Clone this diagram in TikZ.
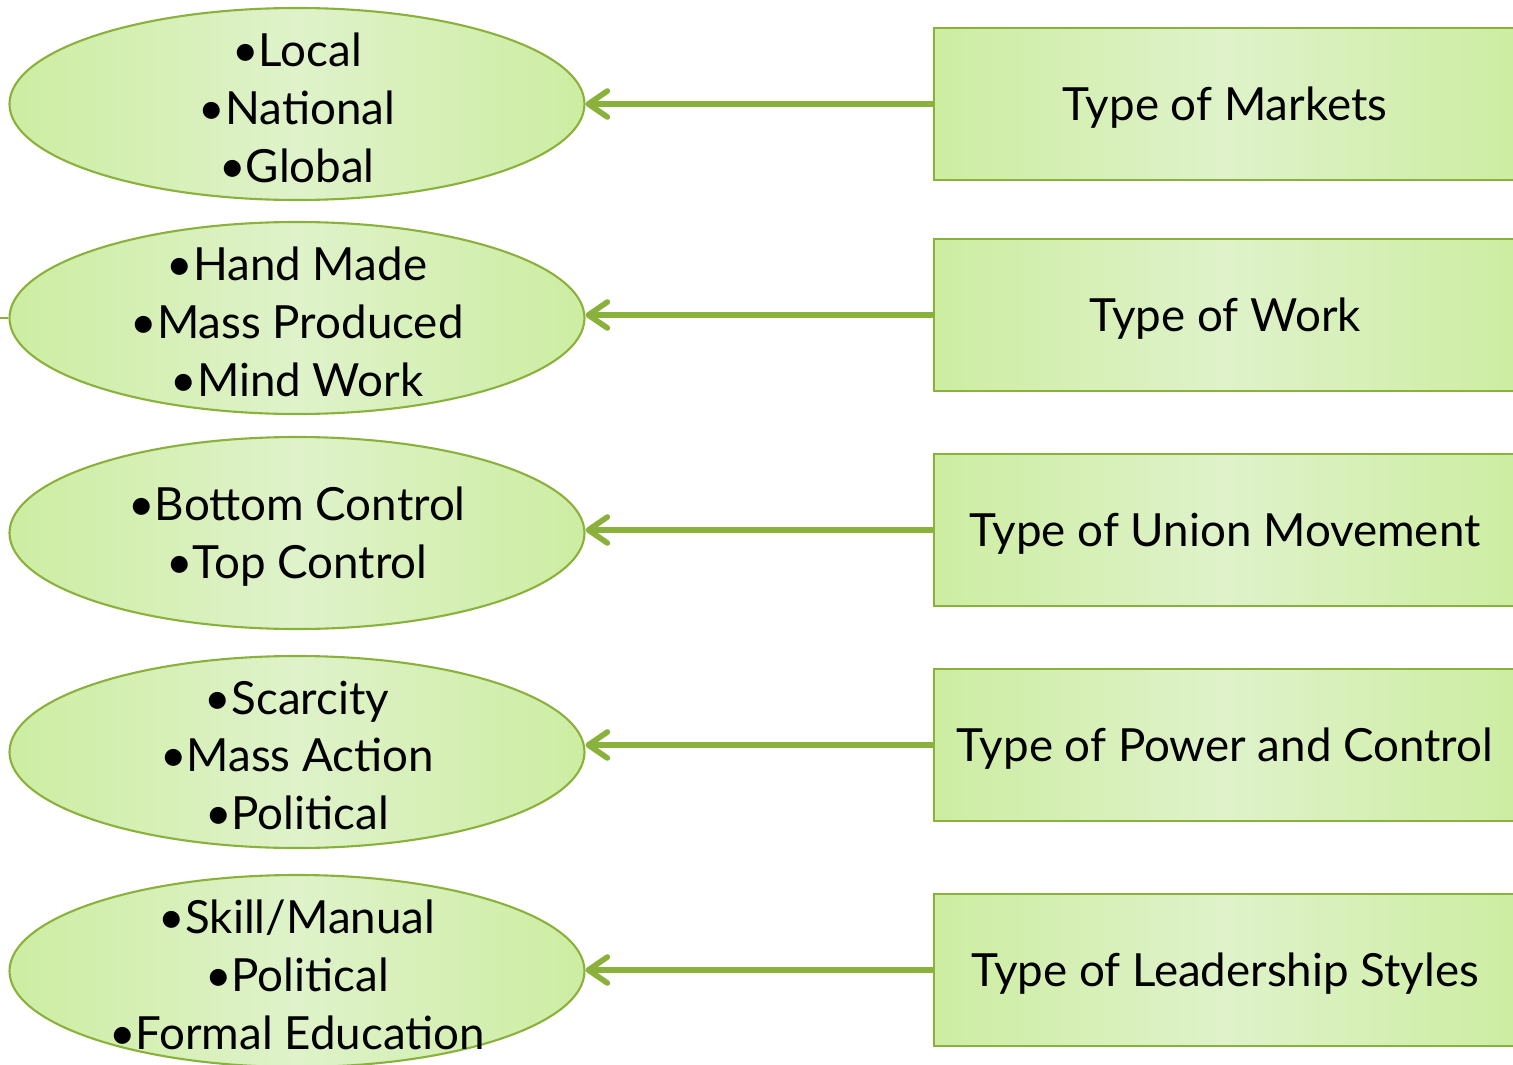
\documentclass[tikz,border=0pt]{standalone}
\usepackage{fontspec}
\setmainfont{Lato}
\usetikzlibrary{shapes.geometric,arrows.meta}

\definecolor{leaf}{HTML}{8BB13D}
\definecolor{paleedge}{HTML}{CDEDA2}
\definecolor{palemid}{HTML}{DFF2CA}

\tikzset{
  kind/.style={draw=leaf, line width=1.2pt, ellipse, minimum width=11.5cm,
    minimum height=3.84cm, inner sep=0pt,
    left color=paleedge, right color=paleedge, middle color=palemid,
    label={[align=center, yshift=-0.07cm, font=\fontsize{26}{33}\selectfont]center:#1}},
  typebox/.style={draw=leaf, line width=1.2pt, rectangle, minimum width=11.64cm,
    minimum height=3.04cm, inner sep=0pt, align=center, text depth=0pt,
    left color=paleedge, right color=paleedge, middle color=palemid,
    font=\fontsize{26}{33}\selectfont},
  link/.style={draw=leaf, line width=3.2pt,
    -{Straight Barb[length=0.38cm, width=0.52cm, round]}}
}

\begin{document}
\begin{tikzpicture}
    \useasboundingbox (0,0) rectangle (30.26,-21.28);

    % answers on the left
    \node[kind={\textbullet Local\\ \textbullet National\\ \textbullet Global}] (markets) at (5.94,-2.08) {};
    \node[kind={\textbullet Hand Made\\ \textbullet Mass Produced\\ \textbullet Mind Work}] (work) at (5.94,-6.36) {};
    \node[kind={\textbullet Bottom Control\\ \textbullet Top Control}] (union) at (5.94,-10.66) {};
    \node[kind={\textbullet Scarcity\\ \textbullet Mass Action\\ \textbullet Political}] (power) at (5.94,-15.04) {};
    \node[kind={\textbullet Skill/Manual\\ \textbullet Political\\ \textbullet Formal Education}] (leader) at (5.94,-19.42) {};

    % categories on the right
    \node[typebox] (tmarkets) at (24.5,-2.08) {Type of Markets};
    \node[typebox] (twork) at (24.5,-6.30) {Type of Work};
    \node[typebox] (tunion) at (24.5,-10.60) {Type of Union Movement};
    \node[typebox] (tpower) at (24.5,-14.90) {Type of Power and Control};
    \node[typebox] (tleader) at (24.5,-19.40) {Type of Leadership Styles};

    \coordinate (stub) at (0,-6.36);
    \draw[leaf, line width=0.8pt] (stub) -- (work.west);

    \draw[link] (tmarkets.west) -- (markets.east |- tmarkets.west);
    \draw[link] (twork.west) -- (work.east |- twork.west);
    \draw[link] (tunion.west) -- (union.east |- tunion.west);
    \draw[link] (tpower.west) -- (power.east |- tpower.west);
    \draw[link] (tleader.west) -- (leader.east |- tleader.west);
\end{tikzpicture}
\end{document}
